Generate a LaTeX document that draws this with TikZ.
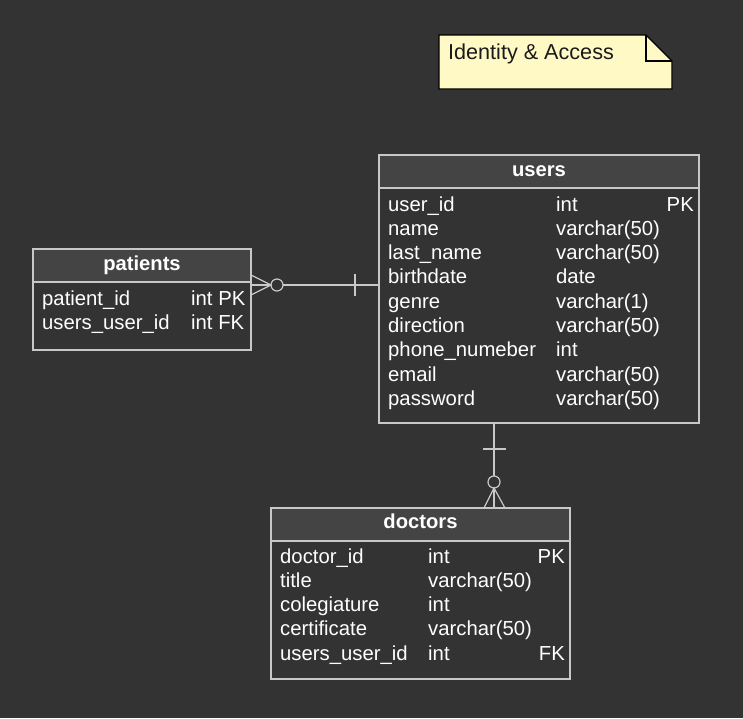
\documentclass[tikz,border=0pt]{standalone}
\usepackage{fontspec}
\setmainfont{Liberation Sans}
\usetikzlibrary{calc}
\definecolor{bg}{HTML}{333333}
\definecolor{hdr}{HTML}{444444}
\definecolor{bord}{HTML}{C8C8C8}
\definecolor{notefill}{HTML}{FFF9C5}
\definecolor{notetext}{HTML}{1A1A1A}
\tikzset{
  tbl/.style={draw=bord, line width=1.2pt, fill=bg, anchor=north west, inner sep=0pt, outer sep=0pt},
  hdrbox/.style={draw=bord, line width=1.2pt, fill=hdr, anchor=north west, inner sep=0pt, outer sep=0pt},
  txt/.style={text=white, font=\fontsize{20.3}{24}\selectfont, inner sep=0pt, anchor=base west},
  txtr/.style={txt, anchor=base east},
  htxt/.style={text=white, font=\fontsize{20.2}{24}\selectfont\bfseries, inner sep=0pt, anchor=base},
  rel/.style={draw=bord, line width=1.2pt},
  notetxt/.style={text=notetext, font=\fontsize{21.6}{24}\selectfont, inner sep=0pt, anchor=base west}
}
\begin{document}
\begin{tikzpicture}[x=1pt,y=-1pt]
\useasboundingbox[fill=bg] (0,0) rectangle (743,718);

% note
\filldraw[draw=black, line width=1.2pt, fill=notefill] (439,35) -- (646,35) -- (672,61) -- (672,89) -- (439,89) -- cycle;
\draw[black, line width=1.2pt] (646,35) -- (646,61) -- (672,61);
\node[notetxt] (note) at (448,59.3) {Identity \& Access};

% users table
\node[tbl, minimum width=320pt, minimum height=268pt] (users) at (379,155) {};
\node[hdrbox, minimum width=320pt, minimum height=33pt] (usersh) at (379,155) {};
\node[htxt] (usersl) at (539,176) {users};
\foreach \n/\t/\k [count=\i from 0] in {user\_id/int/PK, name/varchar(50)/, last\_name/varchar(50)/, birthdate/date/, genre/varchar(1)/, direction/varchar(50)/, phone\_numeber/int/, email/varchar(50)/, password/varchar(50)/}{
  \node[txt] (un\i) at (388,211+24.3*\i) {\n};
  \node[txt] (ut\i) at (556,211+24.3*\i) {\t};
  \node[txtr] (uk\i) at (694,211+24.3*\i) {\k};
}

% patients table
\node[tbl, minimum width=218pt, minimum height=101pt] (patients) at (33,249) {};
\node[hdrbox, minimum width=218pt, minimum height=33pt] (patientsh) at (33,249) {};
\node[htxt] (patientsl) at (142,270) {patients};
\node[txt] (pn0) at (42,305) {patient\_id};
\node[txt] (pt0) at (191,305) {int PK};
\node[txt] (pn1) at (42,329.5) {users\_user\_id};
\node[txt] (pt1) at (191,329.5) {int FK};

% doctors table
\node[tbl, minimum width=299pt, minimum height=171pt] (doctors) at (271,508) {};
\node[hdrbox, minimum width=299pt, minimum height=33pt] (doctorsh) at (271,508) {};
\node[htxt] (doctorsl) at (420.5,528.5) {doctors};
\foreach \n/\t/\k [count=\i from 0] in {doctor\_id/int/PK, title/varchar(50)/, colegiature/int/, certificate/varchar(50)/, users\_user\_id/int/FK}{
  \node[txt] (dn\i) at (280,563.3+24.2*\i) {\n};
  \node[txt] (dt\i) at (428,563.3+24.2*\i) {\t};
  \node[txtr] (dk\i) at (565,563.3+24.2*\i) {\k};
}

% relation users -- patients
\coordinate (ua) at ([yshift=-130pt]users.north west);
\coordinate (pa) at ([yshift=-36pt]patients.north east);
\draw[rel] (ua) -- ($(pa)+(26,0)+(6,0)$);
\draw[rel] ($(pa)+(26,0)$) circle (6pt);
\draw[rel] ($(pa)+(20,0)$) -- (pa);
\draw[rel] ($(pa)+(0,-10)$) -- ($(pa)+(20,0)$) -- ($(pa)+(0,10)$);
\draw[rel] ($(ua)+(-24,-11)$) -- ($(ua)+(-24,11)$);

% relation users -- doctors
\coordinate (ub) at ([xshift=115pt]users.south west);
\coordinate (db) at ([xshift=223pt]doctors.north west);
\draw[rel] (ub) -- ($(db)+(0,-26)+(0,-6)$);
\draw[rel] ($(db)+(0,-26)$) circle (6pt);
\draw[rel] ($(db)+(0,-20)$) -- (db);
\draw[rel] ($(db)+(-10,0)$) -- ($(db)+(0,-20)$) -- ($(db)+(11,0)$);
\draw[rel] ($(ub)+(-11,26)$) -- ($(ub)+(12,26)$);
\end{tikzpicture}
\end{document}
